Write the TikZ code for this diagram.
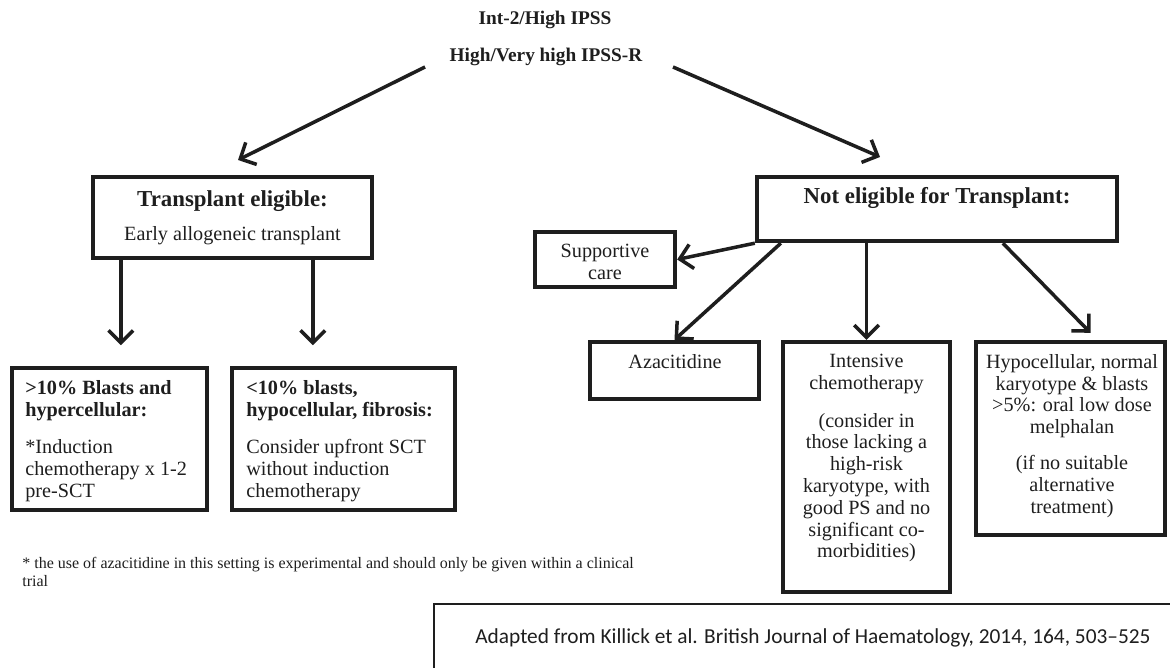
\documentclass[tikz,border=0pt]{standalone}
\usepackage{fontspec}
\setmainfont{Liberation Serif}
\newfontfamily\reffont[Ligatures=TeX]{Carlito}
\usetikzlibrary{arrows.meta,calc,positioning}
\definecolor{ink}{HTML}{1E1E1E}

\begin{document}
\begin{tikzpicture}[x=0.02cm,y=-0.02cm,
  box/.style={draw=ink,line width=2.5pt,inner sep=0pt},
  txt/.style={inner sep=0pt,text=ink,font=\fontsize{11.5}{12.4}\selectfont},
  hd/.style={inner sep=0pt,text=ink,font=\bfseries\fontsize{11}{12}\selectfont},
  arr/.style={draw=ink,line width=2pt,-{Straight Barb[length=7pt,width=14pt]}}]
  \clip (0,0) rectangle (1170,668);

  \node[hd] (ipss) at (545,20) {Int-2/High IPSS};
  \node[hd] (ipssr) at (546,57) {High/Very high IPSS-R};
  \coordinate (l0) at (425,67);
  \coordinate (l1) at (238,160);
  \coordinate (r0) at (673,67);
  \coordinate (r1) at (880,157);
  \draw[arr] (l0) -- (l1);
  \draw[arr] (r0) -- (r1);

  \node[box,minimum width=5.58cm,minimum height=1.62cm] (te) at (232.5,217.5) {};
  \node[txt,align=center] (tet) at (te) {{\bfseries\fontsize{13}{14}\selectfont Transplant eligible:}\\[7pt]Early allogeneic transplant};

  \node[box,minimum width=3.9cm,minimum height=2.84cm] (hi) at (109.5,439) {};
  \node[box,minimum width=4.46cm,minimum height=2.84cm] (lo) at (343.5,439) {};
  \node[txt,align=left,anchor=north west] (hit) at (25,380) {{\bfseries >10\% Blasts and}\\{\bfseries hypercellular:}\\[9pt]*Induction\\chemotherapy x 1-2\\pre-SCT};
  \node[txt,align=left,anchor=north west] (lot) at (246,380) {{\bfseries <10\% blasts,}\\{\bfseries hypocellular, fibrosis:}\\[9pt]Consider upfront SCT\\without induction\\chemotherapy};
  \foreach \dx in {30,222}
    \draw[arr] ($(te.south west)+(\dx,0)$) -- ++(0,85);

  \node[box,minimum width=7.2cm,minimum height=1.28cm] (ne) at (937,209) {};
  \node[txt,font=\bfseries\fontsize{13}{14}\selectfont] (net) at (937,198) {Not eligible for Transplant:};

  \node[box,minimum width=2.8cm,minimum height=1.1cm] (sc) at (605,259.5) {};
  \node[txt,align=center] (sct) at (605,262) {Supportive\\care};
  \node[box,minimum width=3.38cm,minimum height=1.14cm] (az) at (674.5,370.5) {};
  \node[txt] (azt) at (675,362) {Azacitidine};
  \node[box,minimum width=3.34cm,minimum height=5cm] (ic) at (866.5,467) {};
  \node[txt,align=center,anchor=north] (ict) at (866.5,354) {Intensive\\chemotherapy\\[9pt](consider in\\those lacking a\\high-risk\\karyotype, with\\good PS and no\\significant co-\\morbidities)};
  \node[box,minimum width=3.78cm,minimum height=3.86cm] (hc) at (1070.5,438.5) {};
  \node[txt,align=center,anchor=north] (hct) at (1072,354) {Hypocellular, normal\\karyotype \& blasts\\>5\%: oral low dose\\melphalan\\[8pt](if no suitable\\alternative\\treatment)};

  \draw[arr] (ne.south west) -- (sc.east);
  \draw[arr] ($(ne.south west)+(26,0)$) -- (az.north);
  \draw[arr] (ic.north |- ne.south) -- (ic.north);
  \draw[arr] ($(ne.south west)+(248,0)$) -- ($(hc.north)+(20,-7)$);

  \node[txt,font=\fontsize{9.1}{10.2}\selectfont,align=left,anchor=north west] (fn) at (22,557) {* the use of azacitidine in this setting is experimental and should only be given within a clinical\\trial};

  \node[draw=ink,line width=1.1pt,anchor=north west,minimum width=16cm,minimum height=2cm] (rb) at (433,603) {};
  \node[inner sep=0pt,anchor=west,text=ink,font=\reffont\fontsize{12.15}{13}\selectfont] (rt) at (475,638) {Adapted from Killick et al. British Journal of Haematology, 2014, 164, 503--525};
\end{tikzpicture}
\end{document}
